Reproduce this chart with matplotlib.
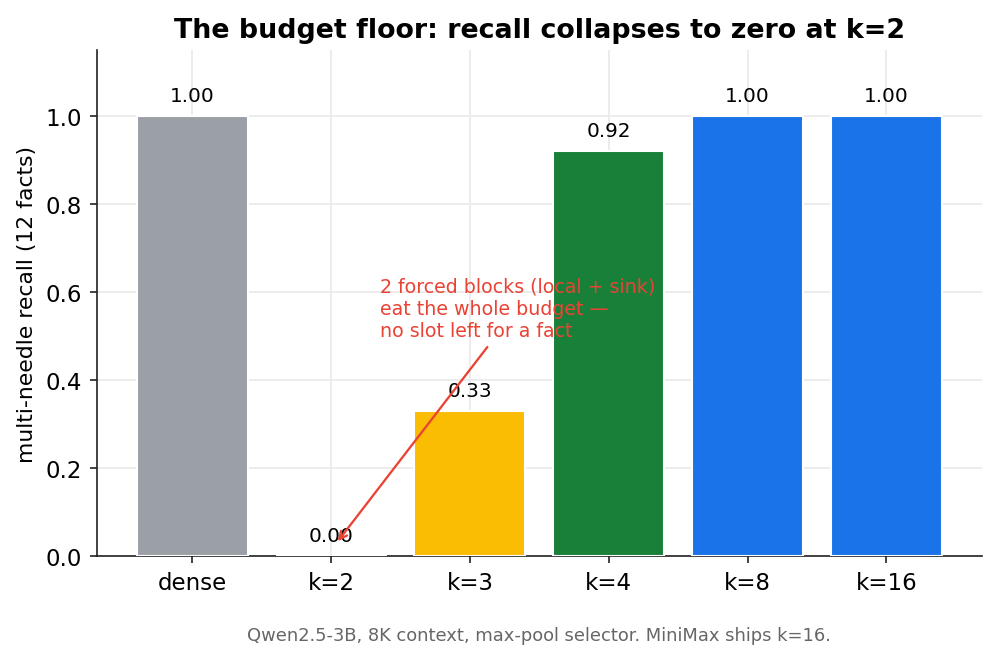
import numpy as np
import matplotlib.pyplot as plt

# dane
labels = ["dense", "k=2", "k=3", "k=4", "k=8", "k=16"]
recall = [1.00, 0.00, 0.33, 0.92, 1.00, 1.00]
colors = ["#9AA0A6", "#EA4335", "#FBBC04", "#188038", "#1A73E8", "#1A73E8"]

fig = plt.figure(figsize=(6.64, 4.413), dpi=150)
ax = fig.add_axes([0.097, 0.158, 0.889, 0.765])

x = np.arange(len(labels))
ax.bar(x, recall, width=0.8, color=colors, edgecolor="white", linewidth=1.0, zorder=3)

# podpisy wartości nad słupkami
for xi, v in zip(x, recall):
    ax.text(xi, v + 0.025, f"{v:.2f}", ha="center", va="bottom", fontsize=9.6, zorder=4)

ax.set_xticks(x)
ax.set_xticklabels(labels)
ax.tick_params(axis="both", labelsize=11, color="#222222")
ax.set_ylim(0, 1.15)
ax.set_ylabel("multi-needle recall (12 facts)", fontsize=10.5)
ax.set_title("The budget floor: recall collapses to zero at k=2", fontsize=12.9, fontweight="bold")
ax.grid(True, color="#ebebeb", linewidth=0.9, zorder=0)
ax.set_axisbelow(True)
ax.spines["top"].set_visible(False)
ax.spines["right"].set_visible(False)
ax.spines["left"].set_color("#222222")
ax.spines["bottom"].set_color("#222222")

ax.annotate("2 forced blocks (local + sink)\neat the whole budget \u2014\nno slot left for a fact",
            xy=(1.03, 0.027), xytext=(1.35, 0.564), ha="left", va="center",
            fontsize=9.1, color="#EA4335",
            arrowprops=dict(arrowstyle="->", color="#EA4335", lw=1.1), zorder=5)

ax.text(0.5, -0.155, "Qwen2.5-3B, 8K context, max-pool selector. MiniMax ships k=16.",
        transform=ax.transAxes, ha="center", va="center", fontsize=8.6, color="#666666")

fig.savefig("out.png", dpi=150)
